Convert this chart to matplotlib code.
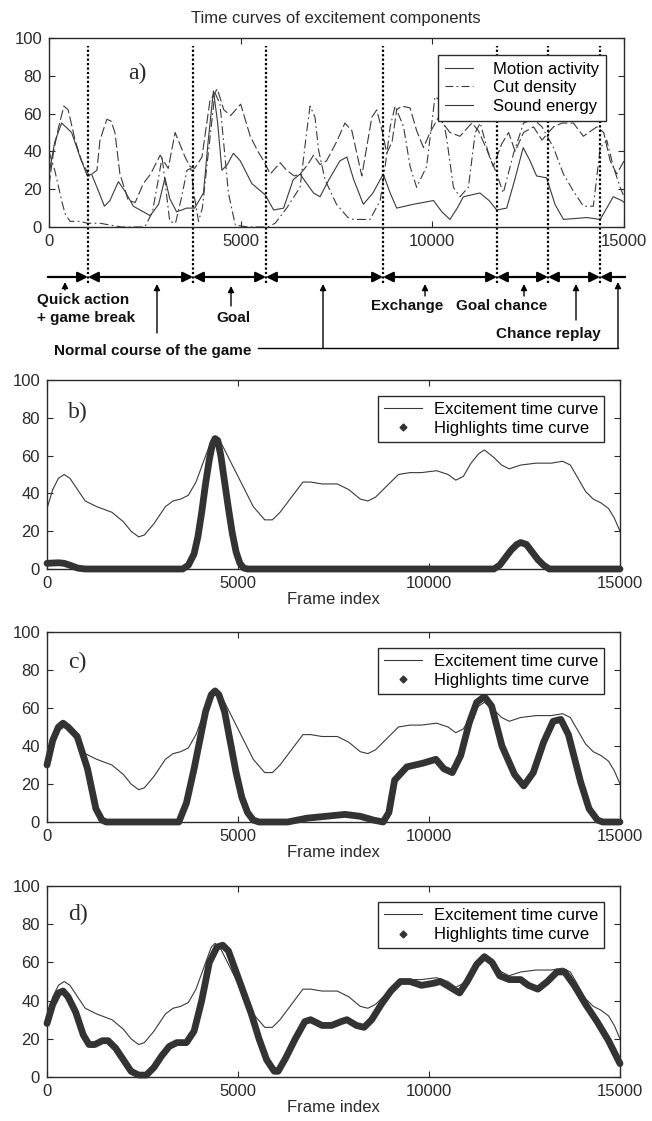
import matplotlib
matplotlib.use('Agg')
import matplotlib.pyplot as plt
from matplotlib.lines import Line2D

plt.rcParams['font.family'] = ['Liberation Sans', 'DejaVu Sans']

W, H = 652, 1121

# ---- panel a: excitement components (frame index, value) ----
motion_f = [0, 120, 240, 390, 500, 680, 850, 1050, 1250, 1330, 1510, 1620, 1720, 1850, 2070, 2250,
            2460, 2650, 2900, 3110, 3290, 3450, 3550, 3680, 3800, 3990, 4200, 4390, 4560, 4740,
            5000, 5250, 5450, 5600, 5770, 6030, 6200, 6400, 6550, 6750, 6900, 7070, 7240, 7500,
            7720, 7900, 8160, 8420, 8550, 8700, 8810, 8950, 9070, 9200, 9420, 9590, 9770, 9940,
            10160, 10460, 10720, 11030, 11200, 11420, 11590, 11810, 11990, 12160, 12380, 12640,
            12860, 13160, 13380, 13680, 13940, 14290, 14470, 14640, 14810, 15000]
motion = [22, 40, 52, 64, 62, 46, 35, 27, 30, 46, 57, 56, 50, 28, 14, 13,
          23, 28, 38, 31, 50, 42, 37, 32, 31, 37, 67, 73, 62, 59,
          65, 48, 40, 35, 28, 34, 30, 27, 28, 33, 38, 33, 35, 45,
          55, 51, 27, 58, 62, 50, 39, 45, 62, 64, 63, 51, 42, 50,
          58, 50, 48, 55, 51, 41, 32, 44, 50, 40, 50, 53,
          46, 53, 55, 55, 48, 53, 50, 35, 28, 35]

cut_f = [0, 150, 330, 420, 550, 810, 1000, 1330, 1600, 1900, 2500, 2700, 2850, 2950, 3050, 3150,
         3300, 3450, 3600, 3700, 3800, 3900, 4000, 4160, 4330, 4460, 4550, 4680, 4860, 5200,
         5700, 5900, 6200, 6550, 6720, 6810, 6940, 7030, 7200, 7500, 7800, 7940, 8375, 8640,
         8770, 8900, 9030, 9250, 9420, 9590, 9850, 10070, 10200, 10380, 10550, 10720, 10940,
         11120, 11250, 11450, 11680, 11850, 12120, 12380, 12640, 12860, 13160, 13420, 13680,
         13940, 14200, 14380, 14550, 14720, 14900, 15000]
cut = [40, 30, 14, 7, 3, 3, 2, 2, 1, 0, 0, 8, 25, 37, 20, 3,
       2, 15, 30, 31, 15, 3, 10, 40, 71, 65, 46, 18, 1, 0,
       0, 2, 10, 21, 50, 64, 58, 41, 25, 12, 5, 4, 4, 14,
       32, 53, 64, 53, 32, 21, 32, 69, 67, 46, 21, 16, 21,
       50, 55, 40, 28, 18, 39, 55, 57, 53, 42, 28, 19,
       11, 11, 42, 46, 32, 21, 16]

sound_f = [0, 150, 330, 590, 810, 1000, 1110, 1290, 1445, 1590, 1810, 1980, 2200, 2640, 2860, 3026,
           3150, 3330, 3590, 3800, 4030, 4150, 4290, 4400, 4510, 4650, 4810, 4990, 5290, 5640,
           5860, 6120, 6370, 6550, 6900, 7070, 7300, 7590, 7770, 7950, 8200, 8450, 8720, 8900,
           9070, 9500, 10030, 10250, 10460, 10650, 10810, 11240, 11480, 11680, 11940, 12150,
           12370, 12550, 12720, 12980, 13200, 13420, 14030, 14380, 14550, 14720, 14940, 15000]
sound = [28, 45, 55, 50, 37, 27, 28, 19, 11, 14, 24, 19, 11, 6, 12, 26,
         15, 8, 10, 10, 18, 45, 72, 55, 30, 33, 39, 35, 23, 17,
         9, 10, 25, 28, 18, 16, 25, 35, 37, 25, 12, 18, 28, 18,
         10, 12, 14, 8, 4, 10, 16, 18, 14, 9, 10, 25,
         42, 35, 27, 26, 12, 4, 5, 4, 10, 16, 14, 13]

# segment boundaries of the game (frames)
bounds = [1017, 3757, 5661, 8713, 11687, 13017, 14374]

# ---- panels b-d ----
exc_f = [0, 150, 300, 450, 600, 800, 1000, 1300, 1700, 2000, 2200, 2400, 2550, 2800, 3100, 3300,
         3500, 3700, 3900, 4100, 4300, 4400, 4550, 4800, 5100, 5400, 5700, 5900, 6100, 6400,
         6700, 6900, 7200, 7600, 7900, 8200, 8400, 8600, 8900, 9200, 9500, 9800, 10200, 10500,
         10700, 10900, 11100, 11300, 11450, 11700, 11900, 12100, 12400, 12800, 13200, 13500,
         13700, 13900, 14100, 14300, 14500, 14700, 14850, 15000]
exc = [32, 42, 48, 50, 48, 42, 36, 33, 30, 25, 20, 17, 18, 24, 33, 36,
       37, 39, 46, 57, 68, 70, 67, 57, 45, 33, 26, 26, 30, 38,
       46, 46, 45, 45, 42, 37, 36, 38, 44, 50, 51, 51, 52, 50,
       47, 49, 56, 61, 63, 59, 55, 53, 55, 56, 56, 57,
       55, 48, 41, 37, 35, 32, 27, 20]

hl_b_f = [0, 300, 450, 600, 800, 1000, 3550, 3700, 3850, 3950, 4050, 4150, 4250, 4330, 4400,
          4470, 4550, 4650, 4750, 4850, 4950, 5050, 5150, 5250, 11700, 11850, 12000, 12150,
          12300, 12400, 12550, 12700, 12850, 13000, 13150, 15000]
hl_b = [3, 3.3, 3, 2, 0.5, 0, 0, 2, 8, 17, 30, 45, 58, 66, 69,
        68, 60, 46, 32, 19, 9, 3, 0.5, 0, 0, 2, 6, 10,
        13, 14, 13, 9, 5, 2, 0, 0]

hl_c_f = [0, 150, 300, 420, 550, 790, 1060, 1280, 1440, 1550, 3450, 3650, 3850, 4000, 4150,
          4300, 4400, 4500, 4650, 4800, 4950, 5100, 5250, 5400, 5550, 6300, 6800, 7300, 7800,
          8200, 8550, 8800, 8950, 9100, 9420, 9850, 10180, 10390, 10610, 10830, 11050, 11250,
          11450, 11640, 11910, 12240, 12480, 12730, 13000, 13250, 13450, 13650, 13970, 14190,
          14410, 14550, 15000]
hl_c = [30, 43, 50, 52, 50, 45, 28, 7, 1, 0, 0, 10, 28, 43, 58,
        67, 69, 67, 58, 42, 26, 13, 5, 1, 0, 0, 2, 3, 4,
        3, 1, 0, 5, 22, 29, 31, 33, 28, 26, 35, 52, 63,
        66, 61, 40, 25, 19, 26, 42, 53, 54, 46, 21, 7,
        1, 0, 0]

hl_d_f = [0, 150, 300, 420, 550, 750, 950, 1100, 1250, 1450, 1600, 1800, 2000, 2200, 2400, 2600,
          2800, 3000, 3200, 3400, 3650, 3850, 4050, 4250, 4450, 4600, 4750, 4950, 5150, 5350,
          5550, 5750, 5950, 6050, 6250, 6500, 6750, 6900, 7200, 7450, 7700, 7850, 8100, 8300,
          8500, 8750, 9000, 9250, 9500, 9800, 10100, 10300, 10550, 10800, 11000, 11250, 11450,
          11650, 11850, 12100, 12400, 12600, 12850, 13100, 13350, 13550, 13800, 14100, 14400,
          14700, 14900, 15000]
hl_d = [28, 38, 44, 45, 42, 34, 22, 17, 17, 19, 19, 15, 9, 3, 1, 1,
        5, 11, 16, 18, 18, 24, 40, 60, 68, 69, 66, 55, 44, 33,
        20, 9, 3, 3, 10, 20, 29, 30, 27, 27, 29, 30, 27, 26,
        30, 38, 45, 50, 50, 48, 49, 50, 47, 44, 50, 59, 63,
        60, 53, 51, 51, 48, 46, 50, 55, 55, 48, 38, 29,
        19, 11, 7]

x_ticks = [0, 5000, 10000, 15000]
y_ticks = [0, 20, 40, 60, 80, 100]

INK = '#2a2a2a'
THIN = '#3a3a3a'
THICK = '#333333'

fig = plt.figure(figsize=(W / 100, H / 100), dpi=100)


def px_axes(l, t, r, b):
    return fig.add_axes([l / W, 1 - b / H, (r - l) / W, (b - t) / H])


def style(ax):
    ax.set_xlim(0, 15000)
    ax.set_ylim(0, 100)
    ax.set_xticks(x_ticks)
    ax.set_yticks(y_ticks)
    ax.tick_params(direction='in', length=4, width=0.8, top=True, right=True,
                   labelsize=12, pad=5, colors=INK)
    for s in ax.spines.values():
        s.set_linewidth(1.0)
        s.set_color(INK)


# ---- panel a ----
ax_a = px_axes(49, 38, 624, 227)
style(ax_a)
ax_a.plot(motion_f, motion, color=THIN, lw=0.8, dashes=(9, 3))
ax_a.plot(cut_f, cut, color=THIN, lw=0.8, dashes=(8, 3, 1.5, 3))
ax_a.plot(sound_f, sound, color=THIN, lw=0.8)
ax_a.vlines(bounds, -29.6, 96, colors='black', linestyles=(0, (1, 1)), lw=1.6, clip_on=False)
handles_a = [Line2D([], [], color=THIN, lw=0.8),
             Line2D([], [], color=THIN, lw=0.8, dashes=(7, 3, 1.5, 3)),
             Line2D([], [], color=THIN, lw=0.8)]
leg = ax_a.legend(handles_a, ['Motion activity', 'Cut density', 'Sound energy'],
                  loc='upper right', bbox_to_anchor=(0.983, 0.955), fontsize=12,
                  frameon=True, fancybox=False, framealpha=1, edgecolor=INK,
                  handlelength=1.7, handletextpad=1.2, labelspacing=0.22, borderpad=0.4)
leg.get_frame().set_linewidth(1.0)
ax_a.text(0.137, 0.815, 'a)', transform=ax_a.transAxes, fontsize=17,
          family='Liberation Serif', va='center', color=INK)
fig.text(336 / W, 1 - 18 / H, 'Time curves of excitement components', ha='center',
         va='center', fontsize=12, color=INK)

# ---- timeline of game segments (y in figure pixels) ----
tl = px_axes(49, 232, 624, 362)
tl.set_xlim(0, 15000)
tl.set_ylim(362, 232)
tl.axis('off')
yl = 277
edges = [-30] + bounds + [15030]
for i in range(len(edges) - 1):
    if i == 0:
        st = '-|>'
    elif i == len(edges) - 2:
        st = '<|-'
    else:
        st = '<|-|>'
    tl.annotate('', xy=(edges[i + 1], yl), xytext=(edges[i], yl), annotation_clip=False,
                arrowprops=dict(arrowstyle=st, color='black', lw=1.6, mutation_scale=15,
                                shrinkA=0, shrinkB=0))


def up_arrow(x, y0, y1):
    tl.annotate('', xy=(x, y1), xytext=(x, y0), annotation_clip=False,
                arrowprops=dict(arrowstyle='-|>', color='black', lw=1.0, mutation_scale=9,
                                shrinkA=0, shrinkB=0))


bold = dict(fontsize=11, fontweight='bold', color='#111111', va='center')
up_arrow(417, 290, 282)
tl.text(-313, 300, 'Quick action', ha='left', **bold)
tl.text(-313, 318, '+ game break', ha='left', **bold)
up_arrow(2817, 333, 284)
up_arrow(4748, 306, 286)
tl.text(4800, 318, 'Goal', ha='center', **bold)
up_arrow(9809, 296, 284)
tl.text(9339, 306, 'Exchange', ha='center', **bold)
up_arrow(12391, 296, 284)
tl.text(11817, 306, 'Goal chance', ha='center', **bold)
up_arrow(13748, 320, 284)
tl.text(13017, 334, 'Chance replay', ha='center', **bold)
tl.text(130, 351, 'Normal course of the game', ha='left', **bold)
tl.plot([5450, 14843], [348, 348], color='black', lw=1.0, clip_on=False)
up_arrow(7148, 348, 284)
up_arrow(14843, 348, 282)

# ---- panels b, c, d ----
panels = [((380, 569), hl_b_f, hl_b, 'b)', 0.83),
          ((632, 822), hl_c_f, hl_c, 'c)', 0.84),
          ((886, 1077), hl_d_f, hl_d, 'd)', 0.85)]
for (top, bot), hf, hv, lab, ly in panels:
    ax = px_axes(47, top, 620, bot)
    style(ax)
    ax.plot(exc_f, exc, color=THIN, lw=0.8, zorder=2)
    ax.plot(hf, hv, color=THICK, lw=4.9, solid_joinstyle='round', solid_capstyle='round',
            zorder=3, clip_on=False)
    ax.set_xlabel('Frame index', fontsize=12, labelpad=1, color=INK)
    handles = [Line2D([], [], color=THIN, lw=0.8),
               Line2D([], [], ls='none', marker='D', markersize=3.5, color=THICK)]
    lg = ax.legend(handles, ['Excitement time curve', 'Highlights time curve'],
                   loc='upper right', bbox_to_anchor=(0.986, 0.958), fontsize=12,
                   frameon=True, fancybox=False, framealpha=1, edgecolor=INK,
                   handlelength=2.3, handletextpad=0.7, labelspacing=0.25, borderpad=0.35)
    lg.get_frame().set_linewidth(1.0)
    ax.text(0.037, ly, lab, transform=ax.transAxes, fontsize=17,
            family='Liberation Serif', va='center', color=INK)

fig.savefig('out.png', dpi=100)
print('saved out.png')
